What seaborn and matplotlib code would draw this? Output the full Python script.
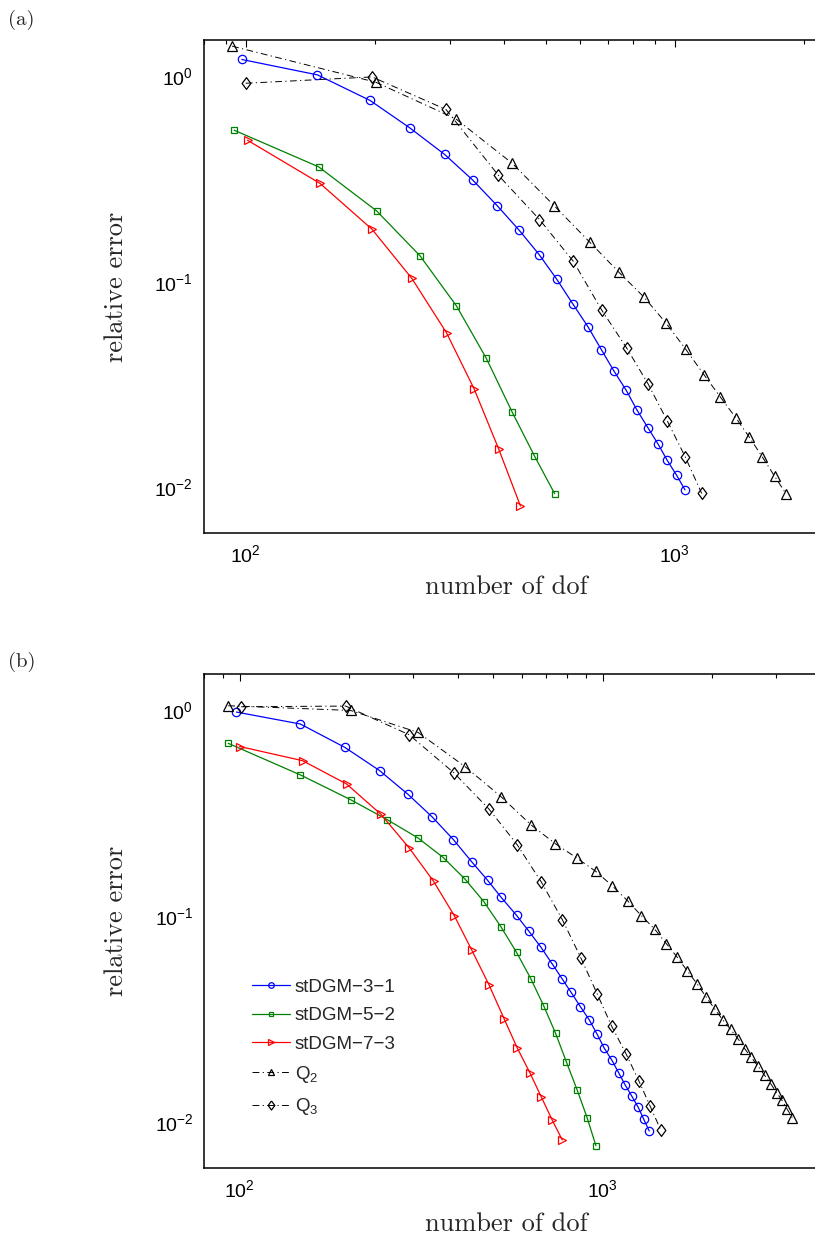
import matplotlib
matplotlib.use("Agg")
import matplotlib.pyplot as plt
from matplotlib.lines import Line2D
from matplotlib.ticker import LogLocator, NullFormatter, LogFormatterSciNotation
import seaborn as sns

# ---- panel (a) ----
dof_a_31 = [98, 147, 195, 242, 291, 339, 386, 434, 483, 531, 578, 628, 675, 722, 771, 817, 867, 914, 961, 1011, 1057]
err_a_31 = [1.206, 1.015, 0.762, 0.558, 0.416, 0.311, 0.234, 0.178, 0.1356, 0.1028, 0.0783, 0.0603,
            0.0466, 0.0367, 0.0296, 0.0237, 0.0194, 0.01625, 0.01349, 0.0114, 0.0097]
dof_a_52 = [94, 148, 202, 255, 310, 364, 418, 471, 525]
err_a_52 = [0.546, 0.362, 0.221, 0.1335, 0.0762, 0.0423, 0.0232, 0.0142, 0.0093]
dof_a_73 = [101, 149, 197, 244, 294, 341, 389, 437]
err_a_73 = [0.488, 0.301, 0.180, 0.1037, 0.0563, 0.0300, 0.0153, 0.0081]
dof_a_q2 = [93, 201, 309, 418, 524, 634, 741, 848, 956, 1062, 1172, 1277, 1387, 1493, 1600, 1711, 1820]
err_a_q2 = [1.40, 0.935, 0.62, 0.377, 0.234, 0.1557, 0.1112, 0.0841, 0.0626, 0.0468, 0.0351, 0.0275,
            0.0218, 0.0175, 0.01405, 0.01127, 0.00925]
dof_a_q3 = [100, 197, 293, 388, 484, 580, 676, 773, 867, 961, 1058, 1156]
err_a_q3 = [0.924, 0.992, 0.689, 0.330, 0.2007, 0.1259, 0.0727, 0.0475, 0.0318, 0.0210, 0.01405, 0.00932]

# ---- panel (b) ----
dof_b_31 = [98, 147, 195, 243, 291, 339, 388, 436, 482, 525, 579, 627, 676, 725, 773, 819, 868, 919,
            966, 1010, 1061, 1109, 1154, 1204, 1253, 1297, 1344]
err_b_31 = [0.982, 0.859, 0.661, 0.510, 0.391, 0.304, 0.2357, 0.1837, 0.1495, 0.1237, 0.101, 0.0843,
            0.0707, 0.0589, 0.0497, 0.0426, 0.0364, 0.0313, 0.02666, 0.02286, 0.01993, 0.01724,
            0.01512, 0.01333, 0.01179, 0.01034, 0.00904]
dof_b_52 = [93, 147, 202, 255, 310, 364, 418, 471, 524, 579, 634, 688, 742, 794, 851, 906, 958]
err_b_52 = [0.692, 0.486, 0.3685, 0.2946, 0.240, 0.1927, 0.1512, 0.1175, 0.0891, 0.0668, 0.0497,
            0.0367, 0.02696, 0.01964, 0.01429, 0.0105, 0.00768]
dof_b_73 = [100, 149, 197, 245, 293, 342, 390, 436, 486, 535, 582, 630, 677, 726, 774]
err_b_73 = [0.668, 0.570, 0.4393, 0.3128, 0.2148, 0.1479, 0.1008, 0.0684, 0.0465, 0.0318, 0.02286,
            0.01738, 0.01328, 0.01023, 0.00818]
dof_b_q2 = [93, 202, 310, 418, 525, 635, 740, 848, 958, 1063, 1172, 1277, 1391, 1497, 1605, 1710,
            1819, 1926, 2034, 2141, 2252, 2359, 2462, 2567, 2678, 2794, 2903, 3015, 3119, 3219, 3329]
err_b_q2 = [1.054, 1.0, 0.782, 0.533, 0.381, 0.2778, 0.2254, 0.192, 0.165, 0.1405, 0.1188, 0.1008,
            0.0865, 0.0737, 0.0632, 0.0543, 0.047, 0.0406, 0.0355, 0.0314, 0.0282, 0.0254, 0.0227,
            0.0206, 0.0187, 0.01686, 0.01536, 0.0139, 0.01274, 0.0116, 0.0105]
dof_b_q3 = [101, 196, 293, 389, 486, 581, 677, 774, 870, 965, 1059, 1159, 1257, 1350, 1447]
err_b_q3 = [1.042, 1.05, 0.762, 0.498, 0.332, 0.223, 0.147, 0.0964, 0.063, 0.0421, 0.0292, 0.0215,
            0.0159, 0.0120, 0.00911]

labels = ["stDGM\u22123\u22121", "stDGM\u22125\u22122", "stDGM\u22127\u22123", "Q$_2$", "Q$_3$"]

sns.set_theme(style="white")
plt.rcParams["font.family"] = ["Liberation Sans", "DejaVu Sans"]
plt.rcParams["mathtext.default"] = "regular"
plt.rcParams["axes.unicode_minus"] = True

SERIF = "cmr10"
DASHDOT = (0, (7, 3.5, 1.2, 3.5))
DIAMOND = [(0, 1), (0.74, 0), (0, -1), (-0.74, 0), (0, 1)]

styles = [
    dict(color=(0, 0, 1), marker="o", markersize=6.0, linewidth=0.9, linestyle="-"),
    dict(color=(0, 0.5, 0), marker="s", markersize=4.5, linewidth=0.9, linestyle="-"),
    dict(color=(1, 0, 0), marker=">", markersize=6.0, linewidth=0.9, linestyle="-"),
    dict(color="black", marker="^", markersize=6.5, linewidth=0.7, linestyle=DASHDOT),
    dict(color="black", marker=DIAMOND, markersize=8.5, linewidth=0.7, linestyle=DASHDOT),
]

fig = plt.figure(figsize=(8.15, 12.43), dpi=100)
ax_a = fig.add_axes([0.2504, 0.5714, 0.7577, 0.3964])
ax_b = fig.add_axes([0.2509, 0.0606, 0.7567, 0.3970])

panels = [
    (ax_a, [(dof_a_31, err_a_31), (dof_a_52, err_a_52), (dof_a_73, err_a_73),
            (dof_a_q2, err_a_q2), (dof_a_q3, err_a_q3)], (80, 2200), -0.086),
    (ax_b, [(dof_b_31, err_b_31), (dof_b_52, err_b_52), (dof_b_73, err_b_73),
            (dof_b_q2, err_b_q2), (dof_b_q3, err_b_q3)], (80, 4000), -0.090),
]

for ax, series, xlim, xlab_y in panels:
    for (x, y), st, lab in zip(series, styles, labels):
        sns.lineplot(x=x, y=y, ax=ax, estimator=None, sort=False, label=lab,
                     color=st["color"], linewidth=st["linewidth"],
                     marker=st["marker"], markersize=st["markersize"],
                     markerfacecolor="none", markeredgecolor=st["color"],
                     markeredgewidth=0.9)
        ax.lines[-1].set_linestyle(st["linestyle"])
    ax.set_xscale("log")
    ax.set_yscale("log")
    ax.set_xlim(*xlim)
    ax.set_ylim(0.006, 1.5)
    ax.xaxis.set_major_locator(LogLocator(base=10, numticks=10))
    ax.xaxis.set_minor_locator(LogLocator(base=10, subs=range(2, 10), numticks=20))
    ax.yaxis.set_major_locator(LogLocator(base=10, numticks=10))
    ax.yaxis.set_minor_locator(LogLocator(base=10, subs=range(2, 10), numticks=20))
    ax.xaxis.set_major_formatter(LogFormatterSciNotation())
    ax.yaxis.set_major_formatter(LogFormatterSciNotation())
    ax.xaxis.set_minor_formatter(NullFormatter())
    ax.yaxis.set_minor_formatter(NullFormatter())
    ax.tick_params(which="both", direction="in", top=True, right=False, colors="black",
                   labelsize=14, width=0.8, pad=8)
    ax.tick_params(which="major", length=5)
    ax.tick_params(which="minor", length=3)
    for sp in ax.spines.values():
        sp.set_linewidth(1.1)
        sp.set_color("black")
    ax.grid(False)
    ax.set_xlabel("number of dof", fontsize=19, family=SERIF)
    ax.set_ylabel("relative error", fontsize=19, family=SERIF)
    ax.xaxis.set_label_coords(0.489, xlab_y)
    ax.yaxis.set_label_coords(-0.124, 0.5)
    if ax.get_legend() is not None:
        ax.get_legend().remove()

# legend keys use smaller markers than the curves
legend_sizes = [4.0, 3.5, 4.5, 4.8, 6.5]
handles = [Line2D([], [], color=st["color"], linewidth=st["linewidth"], linestyle=st["linestyle"],
                  marker=st["marker"], markersize=ms, markerfacecolor="none",
                  markeredgecolor=st["color"], markeredgewidth=0.9)
           for st, ms in zip(styles, legend_sizes)]
ax_b.legend(handles, labels, loc="upper left", bbox_to_anchor=(0.0765, 0.3825),
            frameon=False, fontsize=13.5, handlelength=2.03, handletextpad=0.27,
            borderpad=0, borderaxespad=0, labelspacing=0.6)

fig.text(0.010, 1 - 20 / 1243, "(a)", family=SERIF, fontsize=15, va="center", ha="left")
fig.text(0.010, 1 - 662 / 1243, "(b)", family=SERIF, fontsize=15, va="center", ha="left")

fig.savefig("out.png", dpi=100)
